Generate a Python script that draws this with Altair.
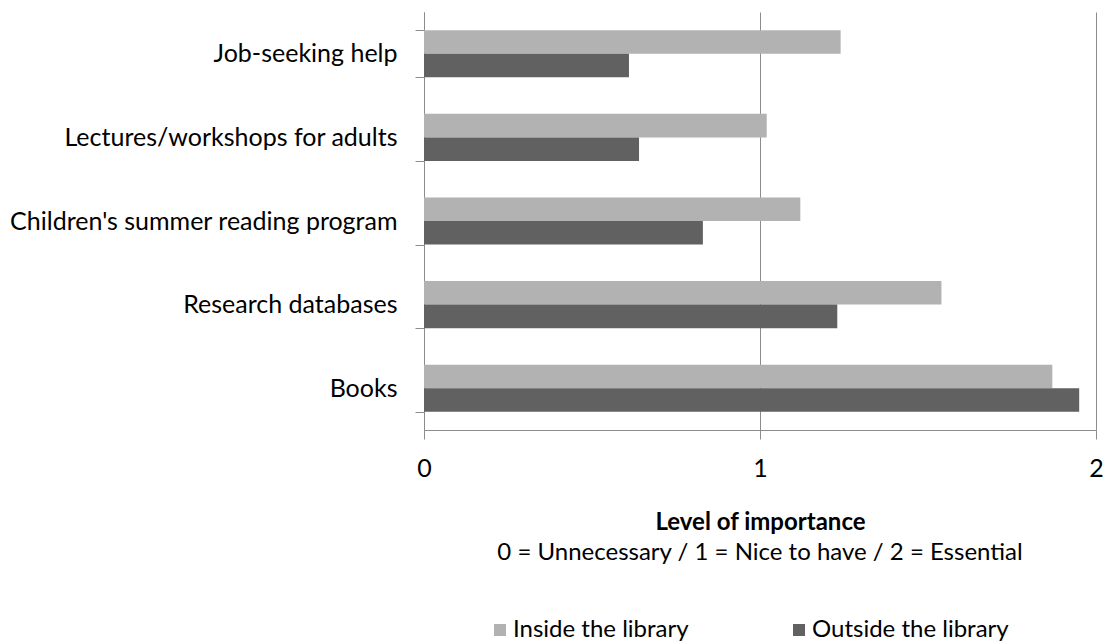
import altair as alt
import pandas as pd

# Survey services, top to bottom
services = [
    "Job-seeking help",
    "Lectures/workshops for adults",
    "Children's summer reading program",
    "Research databases",
    "Books",
]
locations = ["Inside the library", "Outside the library"]
inside_scores = [1.24, 1.02, 1.12, 1.54, 1.87]
outside_scores = [0.61, 0.64, 0.83, 1.23, 1.95]
axis_title = "Level of importance"
scale_note = "0 = Unnecessary / 1 = Nice to have / 2 = Essential"

rows = []
for svc, a, b in zip(services, inside_scores, outside_scores):
    rows.append({"service": svc, "location": locations[0], "score": a})
    rows.append({"service": svc, "location": locations[1], "score": b})
df = pd.DataFrame(rows)

W, H = 672, 418
FONT = "Lato"
LINE = "#8c8c8c"

bars = alt.Chart(df).mark_bar().encode(
    x=alt.X(
        "score:Q",
        scale=alt.Scale(domain=[0, 2], nice=False, zero=True),
        axis=alt.Axis(
            tickCount=2,
            format="d",
            title=axis_title,
            grid=True,
            gridColor=LINE,
            gridWidth=1,
            domainColor=LINE,
            tickColor=LINE,
            tickSize=9,
            labelPadding=17,
            labelFont=FONT,
            labelFontSize=25,
            labelColor="#000000",
            labelOverlap=False,
            labelFlush=False,
            titleFont=FONT,
            titleFontSize=24,
            titleFontWeight="bold",
            titleColor="#000000",
            titlePadding=29,
        ),
    ),
    y=alt.Y(
        "service:N",
        sort=services,
        scale=alt.Scale(paddingInner=0.437, paddingOuter=0.2185),
        axis=alt.Axis(
            title=None,
            tickBand="extent",
            tickSize=9,
            tickColor=LINE,
            domainColor=LINE,
            labelPadding=18,
            labelFont=FONT,
            labelFontSize=25,
            labelColor="#000000",
            labelLimit=500,
            minExtent=424,
            maxExtent=424,
            grid=False,
        ),
    ),
    yOffset=alt.YOffset("location:N", sort=locations),
    color=alt.Color(
        "location:N",
        sort=locations,
        scale=alt.Scale(domain=locations, range=["#b2b2b2", "#616161"]),
        legend=alt.Legend(
            title=None,
            orient="none",
            direction="horizontal",
            legendX=64,
            legendY=606,
            symbolType="square",
            symbolSize=144,
            symbolStrokeWidth=0,
            labelFont=FONT,
            labelFontSize=24,
            labelColor="#000000",
            labelLimit=400,
            labelOffset=1,
            columnPadding=98,
        ),
    ),
)

note = alt.Chart(pd.DataFrame({"note": [scale_note]})).mark_text(
    font=FONT, fontSize=24, color="#000000", align="center", baseline="middle"
).encode(text="note:N", x=alt.value(W / 2), y=alt.value(541))

chart = (
    alt.layer(bars, note)
    .properties(
        width=W,
        height=H,
        padding={"left": 0, "top": 0, "right": 0, "bottom": 0},
        background="#ffffff",
    )
    .configure_view(stroke=None)
)

chart.save("out.html", embed_options={"renderer": "svg", "actions": False})
